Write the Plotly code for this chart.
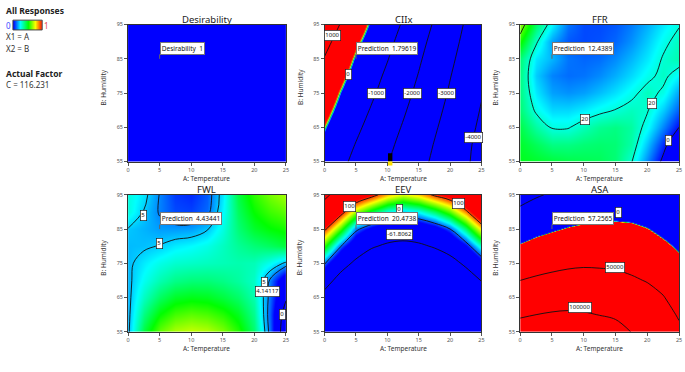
import plotly.graph_objects as go

# ---------------- data ----------------
A_TEMP = [0, 2.5, 5, 7.5, 10, 12.5, 15, 17.5, 20, 22.5, 25]
B_HUM = [55, 60, 65, 70, 75, 80, 85, 90, 95]
X_TICKS = [0, 5, 10, 15, 20, 25]
Y_TICKS = [55, 65, 75, 85, 95]

PANEL_TITLES = ["Desirability", "CIIx", "FFR", "FWL", "EEV", "ASA"]

DESIR_A = [0, 25]
DESIR_B = [55, 95]
DESIRABILITY = [[1, 1], [1, 1]]

CIIX = [
    [-383, -800, -1197, -1576, -1955, -2349, -2746, -3136, -3515, -3894, -4273],
    [-186, -610, -1031, -1422, -1813, -2213, -2623, -3032, -3435, -3839, -4242],
    [0, -420, -840, -1250, -1653, -2059, -2483, -2907, -3322, -3736, -4150],
    [210, -227, -647, -1067, -1483, -1900, -2333, -2772, -3203, -3627, -4051],
    [448, -39, -460, -882, -1310, -1741, -2182, -2636, -3086, -3517, -3948],
    [694, 184, -276, -707, -1143, -1589, -2037, -2505, -2972, -3409, -3843],
    [957, 426, -88, -526, -965, -1430, -1897, -2371, -2848, -3304, -3750],
    [1244, 692, 143, -336, -791, -1262, -1748, -2233, -2718, -3193, -3651],
    [1545, 977, 409, -132, -604, -1080, -1580, -2080, -2580, -3080, -3580],
]
FFR = [
    [33, 32, 31, 30, 29.5, 29, 27, 20.5, 9.4, -1.8, -12],
    [32, 29, 26, 26, 27, 27.5, 27, 23.5, 13.5, 2.8, -8],
    [30, 24, 19.5, 19.5, 22.5, 25, 26, 24, 18, 9, 0],
    [27, 19, 15, 15, 16.5, 18.5, 20.2, 22, 20.5, 14, 6],
    [26, 16, 11, 10, 11, 13, 15.5, 18.5, 22, 19, 11],
    [26, 14, 9, 7.5, 8, 9.5, 12, 15, 18.5, 21.5, 17],
    [27, 16, 12.4, 8, 7, 7.5, 9.5, 12.5, 16, 20.5, 23],
    [36, 21, 11, 6, 5, 5.5, 7, 10, 14, 18.5, 22],
    [45, 28, 17, 8, 5, 5, 6, 8.5, 12, 16, 19.5],
]
FWL = [
    [4.75, 8.0, 10.0, 10.9, 11.2, 11.0, 10.3, 9.2, 7.4, 3.8, -2.0],
    [4.7, 7.2, 8.8, 9.6, 9.9, 9.7, 9.2, 8.4, 7.0, 3.6, -1.2],
    [4.7, 6.4, 7.6, 8.3, 8.5, 8.4, 8.0, 7.5, 6.6, 3.8, 0.3],
    [4.75, 5.8, 6.6, 7.1, 7.3, 7.3, 7.1, 6.8, 6.3, 4.0, 1.0],
    [4.8, 5.4, 5.9, 6.2, 6.3, 6.4, 6.5, 6.6, 6.5, 5.8, 4.8],
    [4.8, 4.85, 5.05, 5.4, 5.6, 5.9, 6.4, 6.9, 7.3, 7.6, 8.0],
    [4.95, 4.7, 4.43, 4.4, 4.45, 4.9, 6.0, 7.3, 8.2, 8.7, 9.0],
    [6.0, 4.95, 4.05, 3.4, 3.3, 3.8, 5.6, 7.6, 8.8, 9.5, 9.9],
    [6.0, 5.3, 4.1, 3.2, 3.0, 3.6, 5.4, 7.9, 9.3, 10.2, 10.8],
]
EEV = [
    [-140, -165, -183, -197, -204, -206, -204, -198, -188, -172, -152],
    [-112, -140, -160, -174, -182, -184, -182, -175, -165, -148, -125],
    [-80, -112, -134, -150, -158, -161, -158, -151, -140, -121, -95],
    [-40, -80, -106, -123, -132, -136, -132, -124, -112, -90, -60],
    [2, -40, -72, -93, -103, -107, -103, -94, -80, -53, -18],
    [54, 2, -32, -57, -69, -74, -69, -58, -40, -12, 29],
    [105, 57, 5, -16, -30, -35, -31, -20, 0, 37, 84],
    [160, 113, 69, 43, 22, 14, 21, 38, 60, 94, 140],
    [216, 168, 128, 109, 87, 75, 85, 104, 118, 150, 190],
]
ASA = [
    [118000, 122000, 125000, 125600, 122300, 117400, 112400, 99400, 91800, 80000, 58300],
    [95500, 100000, 103400, 105000, 103100, 99300, 95200, 84500, 77700, 66500, 45700],
    [72700, 77900, 81900, 84300, 83800, 81200, 77900, 69600, 63200, 52100, 32900],
    [50000, 55800, 60300, 63600, 64600, 63000, 60700, 54800, 48100, 36900, 20200],
    [26600, 33800, 39000, 43100, 45300, 44800, 43300, 39400, 32400, 21600, 7400],
    [3300, 11800, 17800, 22800, 25800, 26300, 25700, 22800, 16700, 6400, -5400],
    [-19500, -10100, -3400, 2400, 6250, 7800, 8100, 6300, 900, -8800, -18100],
    [-42300, -32100, -24600, -17900, -13300, -10700, -9500, -10300, -14800, -24100, -30900],
    [-65000, -54100, -45800, -38200, -32800, -29200, -27100, -26800, -30500, -39300, -43600],
]

CIIX_LEVELS = [-4000, -3000, -2000, -1000, 1000]
FFR_LEVELS = [0, 20, 40]
FWL_LEVELS = [0, 4.14117, 5]
EEV_LEVELS = [-61.8062, 0, 100, 200]
ASA_LEVELS = [-50000, 50000, 100000]

CIIX_LABELS = [("1000", 1.3, 91.7), ("0", 3.8, 80.5), ("-1000", 8.2, 75), ("-2000", 14, 75),
               ("-3000", 19.5, 75), ("-4000", 23.7, 62.1)]
FFR_LABELS = [("20", 10.2, 67.2), ("20", 20.7, 72), ("0", 23.4, 61.2)]
FWL_LABELS = [("5", 2.4, 89.1), ("5", 4.9, 80.9), ("5", 21.6, 69.3), ("4.14117", 22.1, 66.7), ("0", 24.5, 60)]
EEV_LABELS = [("100", 4.0, 91.6), ("100", 21.3, 92.4), ("0", 12.0, 90.6), ("-61.8062", 11.9, 83.4)]
ASA_LABELS = [("0", 15.4, 89.8), ("50000", 15.0, 73.8), ("100000", 9.4, 62.1)]

PRED_A = 5
PRED_B = 85
PRED_TEXT = ["Desirability  1", "Prediction  1.79619", "Prediction  12.4389",
             "Prediction  4.43441", "Prediction  20.4738", "Prediction  57.2565"]

CIIX_MARK_A = [10.1, 10.8]
CIIX_MARK_B = [55, 57.4]

LEGEND_STOPS = [0, 0.25, 0.5, 0.75, 1]

# ---------------- style ----------------
FONT = "Noto Sans, Open Sans, sans-serif"
COLORSCALE = [[0, "rgb(0,0,255)"], [0.25, "rgb(0,255,255)"], [0.5, "rgb(0,255,0)"],
              [0.75, "rgb(255,255,0)"], [1, "rgb(255,0,0)"]]
W, H = 685, 372
PX_X = [(127, 286), (325, 483), (522, 682)]
PX_Y = [(21, 161), (195, 335)]


def fx(px):
    return px / W


def fy(py):
    return 1 - py / H


panels = [
    None,
    dict(z=CIIX, zmin=-40, zmax=40, levels=CIIX_LEVELS, labels=CIIX_LABELS),
    dict(z=FFR, zmin=0, zmax=70, levels=FFR_LEVELS, labels=FFR_LABELS),
    dict(z=FWL, zmin=2.5, zmax=15, levels=FWL_LEVELS, labels=FWL_LABELS),
    dict(z=EEV, zmin=-10, zmax=110, levels=EEV_LEVELS, labels=EEV_LABELS),
    dict(z=ASA, zmin=-500, zmax=500, levels=ASA_LEVELS, labels=ASA_LABELS),
]

fig = go.Figure()
annotations = []
shapes = []
layout = {}

for i in range(6):
    r, c = divmod(i, 3)
    x0, x1 = PX_X[c]
    y0, y1 = PX_Y[r]
    xn = "x" if i == 0 else f"x{i+1}"
    yn = "y" if i == 0 else f"y{i+1}"
    xa = "xaxis" if i == 0 else f"xaxis{i+1}"
    ya = "yaxis" if i == 0 else f"yaxis{i+1}"
    common = dict(showgrid=False, zeroline=False, showline=True, linecolor="#333", linewidth=1,
                  mirror=True, ticks="outside", ticklen=3, tickwidth=0.8, tickcolor="#555",
                  tickfont=dict(size=5.5, color="#555", family=FONT), fixedrange=True)
    layout[xa] = dict(domain=[fx(x0), fx(x1)], range=[0, 25], tickvals=X_TICKS, anchor=yn, **common)
    layout[ya] = dict(domain=[fy(y1), fy(y0)], range=[55, 95], tickvals=Y_TICKS, anchor=xn, **common)

    if i == 0:
        fig.add_trace(go.Heatmap(x=DESIR_A, y=DESIR_B, z=DESIRABILITY, zmin=1, zmax=2,
                                 colorscale=COLORSCALE, showscale=False, hoverinfo="skip",
                                 xaxis=xn, yaxis=yn))
    else:
        p = panels[i]
        fig.add_trace(go.Contour(x=A_TEMP, y=B_HUM, z=p["z"], zmin=p["zmin"], zmax=p["zmax"],
                                 colorscale=COLORSCALE, showscale=False, hoverinfo="skip",
                                 contours=dict(coloring="heatmap", showlines=False),
                                 line=dict(width=0), xaxis=xn, yaxis=yn))
        for lvl in p["levels"]:
            fig.add_trace(go.Contour(x=A_TEMP, y=B_HUM, z=p["z"], autocontour=False,
                                     contours=dict(start=lvl, end=lvl, size=1, coloring="none"),
                                     line=dict(color="#111", width=0.9, smoothing=1),
                                     showscale=False, hoverinfo="skip", xaxis=xn, yaxis=yn))
        for txt, ax_, by_ in p["labels"]:
            annotations.append(dict(text=txt, x=ax_, y=by_, xref=xn, yref=yn, showarrow=False,
                                    font=dict(size=6, color="#111", family=FONT),
                                    bgcolor="white", bordercolor="#222", borderwidth=0.7,
                                    borderpad=0.6))

    # prediction flag
    shapes.append(dict(type="line", xref=xn, yref=yn, x0=PRED_A, x1=PRED_A, y0=PRED_B,
                       y1=PRED_B + 1.3, line=dict(color="#666", width=1)))
    annotations.append(dict(text=PRED_TEXT[i], x=PRED_A, y=PRED_B + 1.2, xref=xn, yref=yn,
                            xanchor="left", yanchor="bottom", showarrow=False,
                            font=dict(size=6.5, color="#111", family=FONT),
                            bgcolor="white", bordercolor="#777", borderwidth=1, borderpad=0.8))

    # titles
    cx = fx((x0 + x1) / 2)
    annotations.append(dict(text=PANEL_TITLES[i], x=cx, y=fy(y0 - 5.5), xref="paper", yref="paper",
                            showarrow=False, xanchor="center", yanchor="middle",
                            font=dict(size=9.5, color="#222", family=FONT)))
    annotations.append(dict(text="A: Temperature", x=cx, y=fy(y1 + 17.5), xref="paper", yref="paper",
                            showarrow=False, xanchor="center", yanchor="middle",
                            font=dict(size=6.5, color="#333", family=FONT)))
    annotations.append(dict(text="B: Humidity", x=fx(x0 - 25), y=fy((y0 + y1) / 2 - 6),
                            xref="paper", yref="paper", showarrow=False, textangle=-90,
                            xanchor="center", yanchor="middle",
                            font=dict(size=6.5, color="#333", family=FONT)))

# odd marker in CIIx panel
shapes.append(dict(type="rect", xref="x2", yref="y2", x0=CIIX_MARK_A[0], x1=CIIX_MARK_A[1],
                   y0=CIIX_MARK_B[0], y1=CIIX_MARK_B[1], fillcolor="black", line=dict(width=0)))
shapes.append(dict(type="rect", xref="x2", yref="paper", x0=CIIX_MARK_A[0], x1=CIIX_MARK_A[1],
                   y0=fy(165), y1=fy(161), fillcolor="#ffe000", line=dict(width=0)))

# legend gradient bar
fig.add_trace(go.Heatmap(x=list(range(len(LEGEND_STOPS))), y=[0], z=[LEGEND_STOPS], zmin=0, zmax=1,
                         zsmooth="best", colorscale=COLORSCALE, showscale=False, hoverinfo="skip",
                         xaxis="x7", yaxis="y7"))
layout["xaxis7"] = dict(domain=[fx(11), fx(40.5)], range=[0, 4], visible=False, anchor="y7", fixedrange=True)
layout["yaxis7"] = dict(domain=[fy(26.5), fy(16.5)], range=[-0.5, 0.5], visible=False, anchor="x7", fixedrange=True)
shapes.append(dict(type="rect", xref="paper", yref="paper", x0=fx(11), x1=fx(40.5), y0=fy(26.5),
                   y1=fy(16.5), line=dict(color="#444", width=1)))

left_texts = [
    ("<b>All Responses</b>", 2, 7, 8.5, "#222"),
    ("X1 = A", 2, 33, 8, "#333"),
    ("X2 = B", 2, 45, 8, "#333"),
    ("<b>Actual Factor</b>", 2, 71.5, 8.5, "#222"),
    ("C = 116.231", 2, 82, 8, "#333"),
]
for t, px, py, s, col in left_texts:
    annotations.append(dict(text=t, x=fx(px), y=fy(py), xref="paper", yref="paper", showarrow=False,
                            xanchor="left", yanchor="middle", font=dict(size=s, color=col, family=FONT)))
annotations.append(dict(text="0", x=fx(6.5), y=fy(21.5), xref="paper", yref="paper", showarrow=False,
                        xanchor="center", yanchor="middle", font=dict(size=8, color="#3a4cff", family=FONT)))
annotations.append(dict(text="1", x=fx(44.5), y=fy(21.5), xref="paper", yref="paper", showarrow=False,
                        xanchor="center", yanchor="middle", font=dict(size=8, color="#e84850", family=FONT)))

fig.update_layout(width=W, height=H, margin=dict(l=0, r=0, t=0, b=0), paper_bgcolor="white",
                  plot_bgcolor="white", showlegend=False, annotations=annotations, shapes=shapes,
                  font=dict(family=FONT), **layout)

fig.write_html("out.html", config={"displayModeBar": False},
               post_script="document.body.style.margin='0';document.body.style.padding='0';"
                           "document.body.style.overflow='hidden';")
